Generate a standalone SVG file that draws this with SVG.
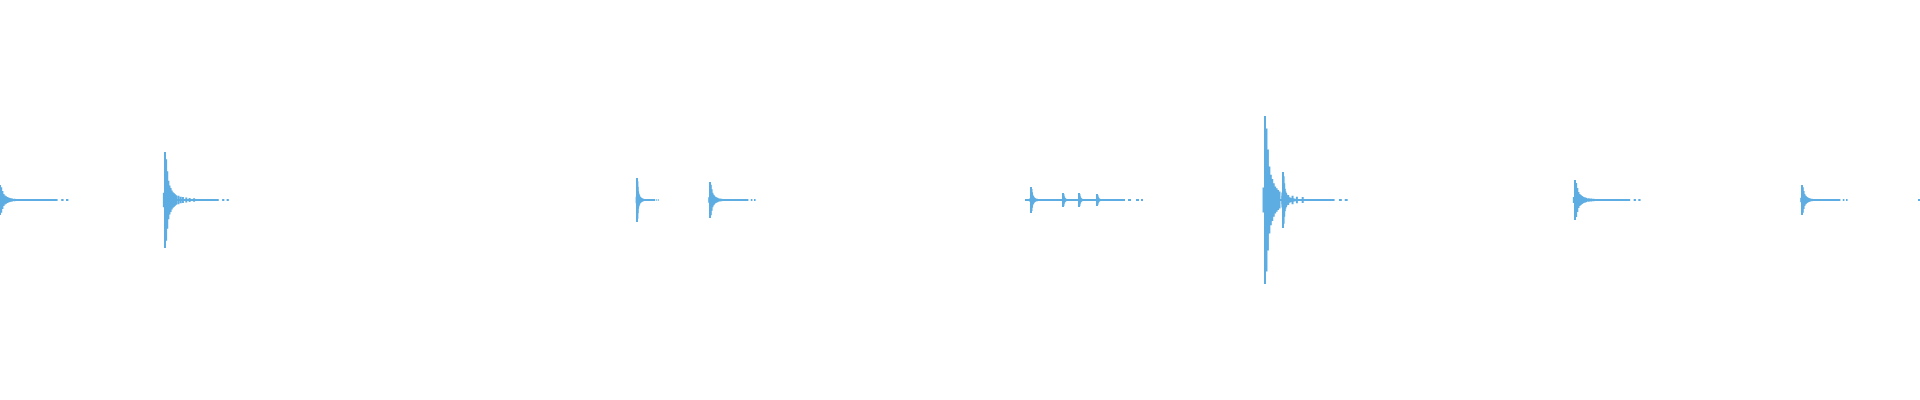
<svg xmlns="http://www.w3.org/2000/svg" xmlns:xlink="http://www.w3.org/1999/xlink" width="1920" height="400" viewBox="0 0 1920 400">
<style>
.b{fill:none;stroke:#5dade2;stroke-width:2;vector-effect:non-scaling-stroke}
.t{fill:none;stroke:#5dade2;stroke-width:2}
</style>
<defs>
<path id="burst" class="b" d="M-1,-0.15V0.15M0,-1V1M1,-0.85V0.85M2,-0.6V0.6M3,-0.4V0.4M4,-0.3V0.3M5,-0.25V0.25M6,-0.2V0.2M7,-0.16V0.16M8,-0.14V0.14M9,-0.12V0.12M10,-0.1V0.1M12,-0.09V0.09M14,-0.07V0.07M16,-0.06V0.06M19,-0.05V0.05M22,-0.04V0.04M26,-0.035V0.035M0,0H48M51,0h2M55,0h2"/>
</defs>
<rect width="1920" height="400" fill="#fff"/>
<g id="waveform">
<use xlink:href="#burst" transform="translate(0,200) scale(1.2,15)"/>
<use xlink:href="#burst" transform="translate(165,200) scale(1.12,48)"/>
<use xlink:href="#burst" transform="translate(637,200) scale(0.38,22)"/>
<use xlink:href="#burst" transform="translate(710,200) scale(0.8,18)"/>
<use xlink:href="#burst" transform="translate(1031,200) scale(0.5,13)"/>
<use xlink:href="#burst" transform="translate(1063,200) scale(0.4,7)"/>
<use xlink:href="#burst" transform="translate(1079,200) scale(0.4,7)"/>
<use xlink:href="#burst" transform="translate(1097,200) scale(0.4,6)"/>
<path class="t" d="M1025,200H1125M1128,200h3M1136,200h3M1141,200h2"/>
<use xlink:href="#burst" transform="translate(1265,200) scale(1.45,84)"/>
<use xlink:href="#burst" transform="translate(1283,200) scale(0.6,28)"/>
<use xlink:href="#burst" transform="translate(1575,200) scale(1.15,20)"/>
<use xlink:href="#burst" transform="translate(1802,200) scale(0.8,15)"/>
<path class="t" d="M1918,200h2"/>
</g>
</svg>
